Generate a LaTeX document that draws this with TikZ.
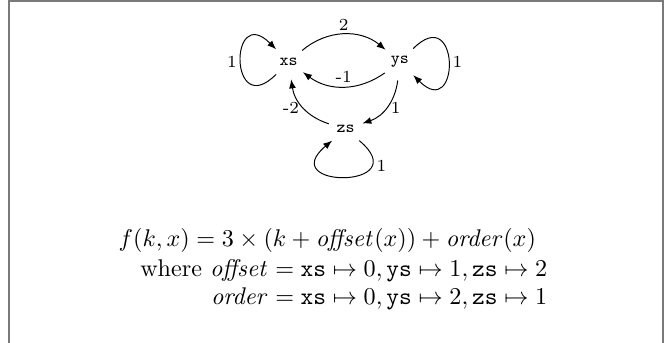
\documentclass[tikz,border=0pt]{standalone}
\usepackage{amsmath,amssymb}
\usepackage{xcolor}
\usepackage{tikz}
\usetikzlibrary{positioning, arrows.meta}
\definecolor{framegray}{HTML}{7a7a7a}

\begin{document}
\begin{tikzpicture}[font=\scriptsize,
 st/.style={circle, inner sep=2.3pt, font=\scriptsize\ttfamily},
 tr/.style={-{Latex[length=1.3mm,width=1mm]}, thin},
 lp/.style={inner sep=1.5pt},
 eqline/.style={inner sep=0pt, font=\normalsize}]
\useasboundingbox (0,0) rectangle (9.72,4.99);
\draw[framegray, line width=0.7pt] (0.13,-0.3) |- (9.65,4.975) -- (9.65,-0.3);

\node[st](xs) at (4.20,4.09){xs};
\node[st](ys) at (5.82,4.09){ys};
\node[st](zs) at (5.03,3.11){zs};

\draw[tr](xs) to[bend left=40] node[lp, above]{2} (ys);
\draw[tr](ys) to[bend left=36] node[lp, above]{-1} (xs);
\draw[tr](ys) to[bend left=32] node[lp, right]{1} (zs);
\draw[tr](zs) to[bend left=32] node[lp, left]{-2} (xs);
\draw[tr](xs) to[out=225, in=135, distance=9.7mm] node[lp, left]{1} (xs);
\draw[tr](ys) to[out=45, in=-45, distance=9.7mm] node[lp, right]{1} (ys);
\draw[tr](zs) to[out=-40, in=220, distance=11mm] node[lp, pos=0.22, right]{1} (zs);

\node[eqline, anchor=base west](fdef) at (1.72,1.40)
  {$f(k,x) = 3\times(k+\mathit{offset}(x))+\mathit{order}(x)$};
\node[eqline, anchor=base east](wheredef) at (7.97,0.96)
  {where $\mathit{offset} = \texttt{xs}\mapsto 0,\texttt{ys}\mapsto 1,\texttt{zs}\mapsto 2$};
\node[eqline, anchor=base east](orderdef) at (7.97,0.56)
  {$\mathit{order} = \texttt{xs}\mapsto 0,\texttt{ys}\mapsto 2,\texttt{zs}\mapsto 1$};
\end{tikzpicture}
\end{document}
